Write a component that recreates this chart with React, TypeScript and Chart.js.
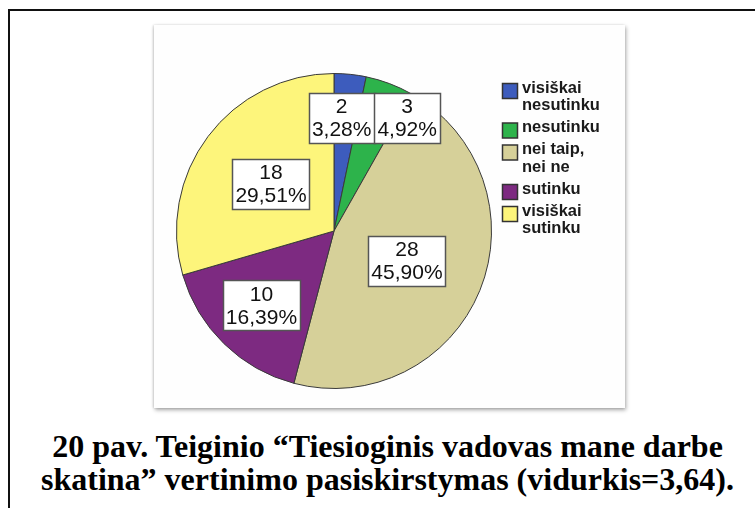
import React, { useEffect, useRef } from "react";
import { Chart, registerables } from "chart.js";

Chart.register(...registerables);

const categories: string[][] = [
  ["visiškai", "nesutinku"],
  ["nesutinku"],
  ["nei taip,", "nei ne"],
  ["sutinku"],
  ["visiškai", "sutinku"],
];
const counts: number[] = [2, 3, 28, 10, 18];
const sliceColors: string[] = ["#3d5cbd", "#2db34b", "#d6d099", "#7d2a81", "#fdf57b"];
const captionLines: string[] = [
  "20 pav. Teiginio “Tiesioginis vadovas mane darbe",
  "skatina” vertinimo pasiskirstymas (vidurkis=3,64).",
];

const total = counts.reduce((a, b) => a + b, 0);
const pct = (i: number) => ((counts[i] / total) * 100).toFixed(2).replace(".", ",") + "%";

const labelPlugin = {
  id: "boxLabels",
  afterDatasetsDraw(chart: any) {
    const ctx = chart.ctx as CanvasRenderingContext2D;
    const meta = chart.getDatasetMeta(0);
    ctx.save();
    ctx.font = "21px 'Liberation Sans', Arial, sans-serif";
    const lineH = 23;
    const boxes: any[] = [];
    meta.data.forEach((arc: any, i: number) => {
      const p = arc.getProps(["x", "y", "startAngle", "endAngle", "outerRadius"], true);
      const mid = (p.startAngle + p.endAngle) / 2;
      const share = counts[i] / total;
      const f = share >= 0.2 ? 0.5 : share >= 0.1 ? 0.66 : 0.72;
      let cx = p.x + Math.cos(mid) * p.outerRadius * f;
      let cy = p.y + Math.sin(mid) * p.outerRadius * f;
      const lines = [String(counts[i]), pct(i)];
      const w = Math.max(...lines.map((l) => ctx.measureText(l).width)) + 6;
      const h = lines.length * lineH + 4;
      const prev = boxes[boxes.length - 1];
      if (
        prev &&
        Math.abs(prev.cx - cx) < (prev.w + w) / 2 &&
        Math.abs(prev.cy - cy) < (prev.h + h) / 2
      ) {
        prev.cx -= 4;
        cy = prev.cy;
        cx = prev.cx + (prev.w + w) / 2;
      }
      boxes.push({ cx, cy, w, h, lines });
    });
    boxes.forEach((b) => {
      const x0 = Math.round(b.cx - b.w / 2) + 0.5;
      const y0 = Math.round(b.cy - b.h / 2) + 0.5;
      ctx.fillStyle = "#ffffff";
      ctx.fillRect(x0, y0, Math.round(b.w), Math.round(b.h));
      ctx.strokeStyle = "#555555";
      ctx.lineWidth = 1.5;
      ctx.strokeRect(x0, y0, Math.round(b.w), Math.round(b.h));
      ctx.fillStyle = "#111111";
      ctx.textAlign = "center";
      ctx.textBaseline = "middle";
      b.lines.forEach((l: string, k: number) => {
        ctx.fillText(l, b.cx, b.cy + (k - (b.lines.length - 1) / 2) * lineH + 1);
      });
    });
    ctx.restore();
  },
};

const legendPlugin = {
  id: "sideLegend",
  afterDraw(chart: any) {
    const ctx = chart.ctx as CanvasRenderingContext2D;
    const area = chart.chartArea;
    const x = area.right + 10;
    let y = area.top + 15;
    const lineH = 17.5;
    const gap = 4.5;
    ctx.save();
    ctx.font = "bold 16.5px 'Liberation Sans', Arial, sans-serif";
    ctx.textBaseline = "middle";
    ctx.textAlign = "left";
    categories.forEach((lines, i) => {
      ctx.fillStyle = sliceColors[i];
      ctx.fillRect(x + 0.5, y - 4.5, 15, 15);
      ctx.strokeStyle = "#333333";
      ctx.lineWidth = 1.5;
      ctx.strokeRect(x + 0.5, y - 4.5, 15, 15);
      ctx.fillStyle = "#1a1a1a";
      lines.forEach((l, k) => {
        ctx.fillText(l, x + 20, y + k * lineH);
      });
      y += lines.length * lineH + gap;
    });
    ctx.restore();
  },
};

function PieChart() {
  const ref = useRef<HTMLCanvasElement>(null);
  useEffect(() => {
    if (!ref.current) return;
    const chart = new Chart(ref.current, {
      type: "pie",
      data: {
        labels: categories.map((c) => c.join(" ")),
        datasets: [
          {
            data: counts,
            backgroundColor: sliceColors,
            borderColor: "#3a3a3a",
            borderWidth: 1,
          },
        ],
      },
      options: {
        animation: false,
        responsive: false,
        maintainAspectRatio: false,
        layout: { padding: { left: 22, right: 133, top: 48, bottom: 19 } },
        plugins: {
          legend: { display: false },
          tooltip: { enabled: false },
        },
      },
      plugins: [labelPlugin, legendPlugin],
    });
    return () => chart.destroy();
  }, []);
  return <canvas ref={ref} width={471} height={383} style={{ display: "block" }} />;
}

export default function App() {
  useEffect(() => {
    document.body.style.margin = "0";
  }, []);
  return (
    <div style={{ position: "absolute", left: 0, top: 0, width: 755, height: 508, background: "#fff", overflow: "hidden" }}>
      <div style={{ position: "absolute", left: 9, top: 9, width: 760, height: 2, background: "#111" }} />
      <div style={{ position: "absolute", left: 8, top: 9, width: 2, height: 520, background: "#111" }} />
      <div
        style={{
          position: "absolute",
          left: 154,
          top: 25,
          width: 471,
          height: 383,
          background: "#fefefe",
          boxShadow: "1px 2px 4px rgba(0,0,0,0.35), -1px 0 2px rgba(0,0,0,0.12)",
        }}
      >
        <PieChart />
      </div>
      <div
        style={{
          position: "absolute",
          left: 10,
          width: 755,
          top: 430,
          textAlign: "center",
          fontFamily: "'Liberation Serif', 'Times New Roman', serif",
          fontWeight: "bold",
          fontSize: 32,
          lineHeight: "33px",
          color: "#000",
          whiteSpace: "nowrap",
        }}
      >
        {captionLines.map((l, i) => (
          <div key={i}>{l}</div>
        ))}
      </div>
    </div>
  );
}
